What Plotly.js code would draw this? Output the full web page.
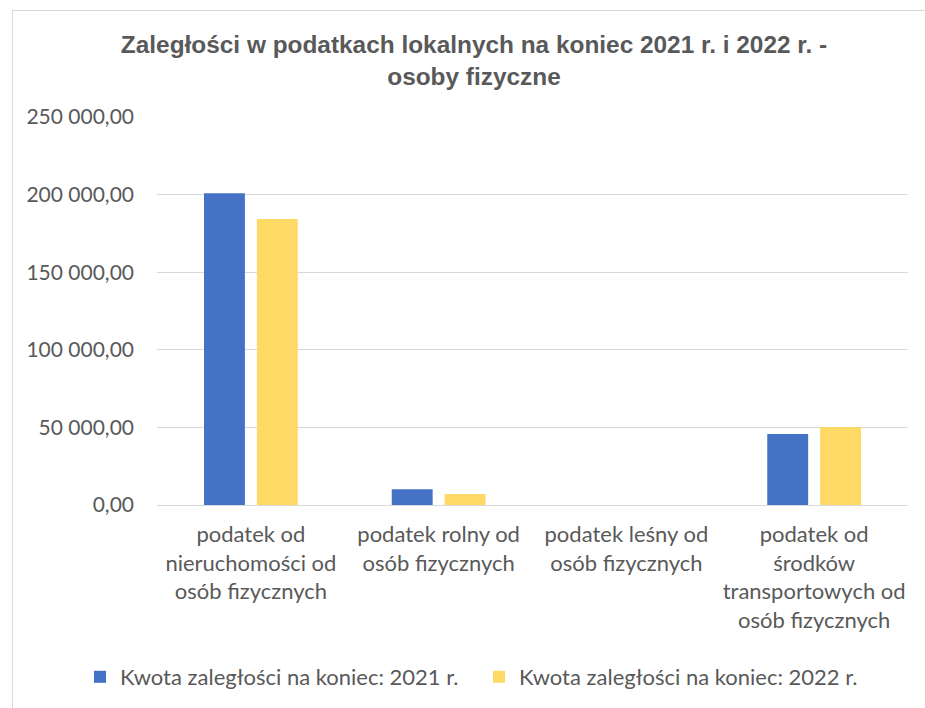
<!DOCTYPE html>
<html>
<head>
<meta charset="utf-8">
<script src="https://cdn.plot.ly/plotly-3.0.1.min.js"></script>
<style>
html,body{margin:0;padding:0;background:#fff;overflow:hidden;}
#chart{width:925px;height:708px;}
#frame{position:absolute;left:12px;top:10px;width:940px;height:740px;border:1px solid #d9d9d9;pointer-events:none;}
</style>
</head>
<body>
<div id="chart"></div>
<div id="frame"></div>
<script>
const categories = [
  "podatek od<br>nieruchomości od<br>osób fizycznych",
  "podatek rolny od<br>osób fizycznych",
  "podatek leśny od<br>osób fizycznych",
  "podatek od<br>środków<br>transportowych od<br>osób fizycznych"
];
const seriesNames = ["Kwota zaległości na koniec: 2021 r.", "Kwota zaległości na koniec: 2022 r."];
const values2021 = [200800, 10100, 0, 45700];
const values2022 = [184300, 7100, 0, 50200];
const tickValues = [0, 50000, 100000, 150000, 200000, 250000];

const fontFam = "Lato, 'Open Sans', sans-serif";
const grey = "#595959";

const traces = [
  {type:"bar", name:seriesNames[0], x:categories, y:values2021, marker:{color:"#4472C4", line:{width:0}}},
  {type:"bar", name:seriesNames[1], x:categories, y:values2022, marker:{color:"#FFD966", line:{width:0}}}
];

const ml = 157, mr = 17, mt = 117, mb = 202;
const pw = 925 - ml - mr, ph = 708 - mt - mb;

const layout = {
  width:925, height:708,
  paper_bgcolor:"#fff", plot_bgcolor:"#fff",
  separators:", ",
  margin:{l:ml, r:mr, t:mt, b:mb},
  barmode:"group", bargap:0.437, bargroupgap:0.226,
  title:{
    text:"<b>Zaległości w podatkach lokalnych na koniec 2021 r. i 2022 r. -<br>osoby fizyczne</b>",
    font:{family:"'Liberation Sans', Arial, sans-serif", size:24.4, color:grey},
    x:474/925, xref:"container", xanchor:"center",
    y:1-53/708, yref:"container", yanchor:"middle"
  },
  xaxis:{
    type:"category",
    tickfont:{family:fontFam, size:22, color:grey},
    showgrid:false, zeroline:false, showline:false, ticks:"", tickangle:0,
    ticklabelstandoff:14
  },
  yaxis:{
    range:[0,250000], tickvals:tickValues, tickformat:",.2f",
    tickfont:{family:fontFam, size:21, color:grey},
    showgrid:true, gridcolor:"#d9d9d9", gridwidth:1,
    zeroline:true, zerolinecolor:"#d9d9d9", zerolinewidth:1,
    showline:false, ticks:"", ticklabelstandoff:22
  },
  showlegend:true,
  legend:{
    orientation:"h", xref:"paper", yref:"paper",
    x:(80-ml)/pw, xanchor:"left", y:-(677-(708-mb))/ph, yanchor:"middle",
    font:{family:fontFam, size:22, color:grey},
    itemwidth:30, tracegroupgap:0,
    entrywidth:354, entrywidthmode:"pixels"
  }
};

Plotly.newPlot("chart", traces, layout, {displayModeBar:false, staticPlot:true});
</script>
</body>
</html>
